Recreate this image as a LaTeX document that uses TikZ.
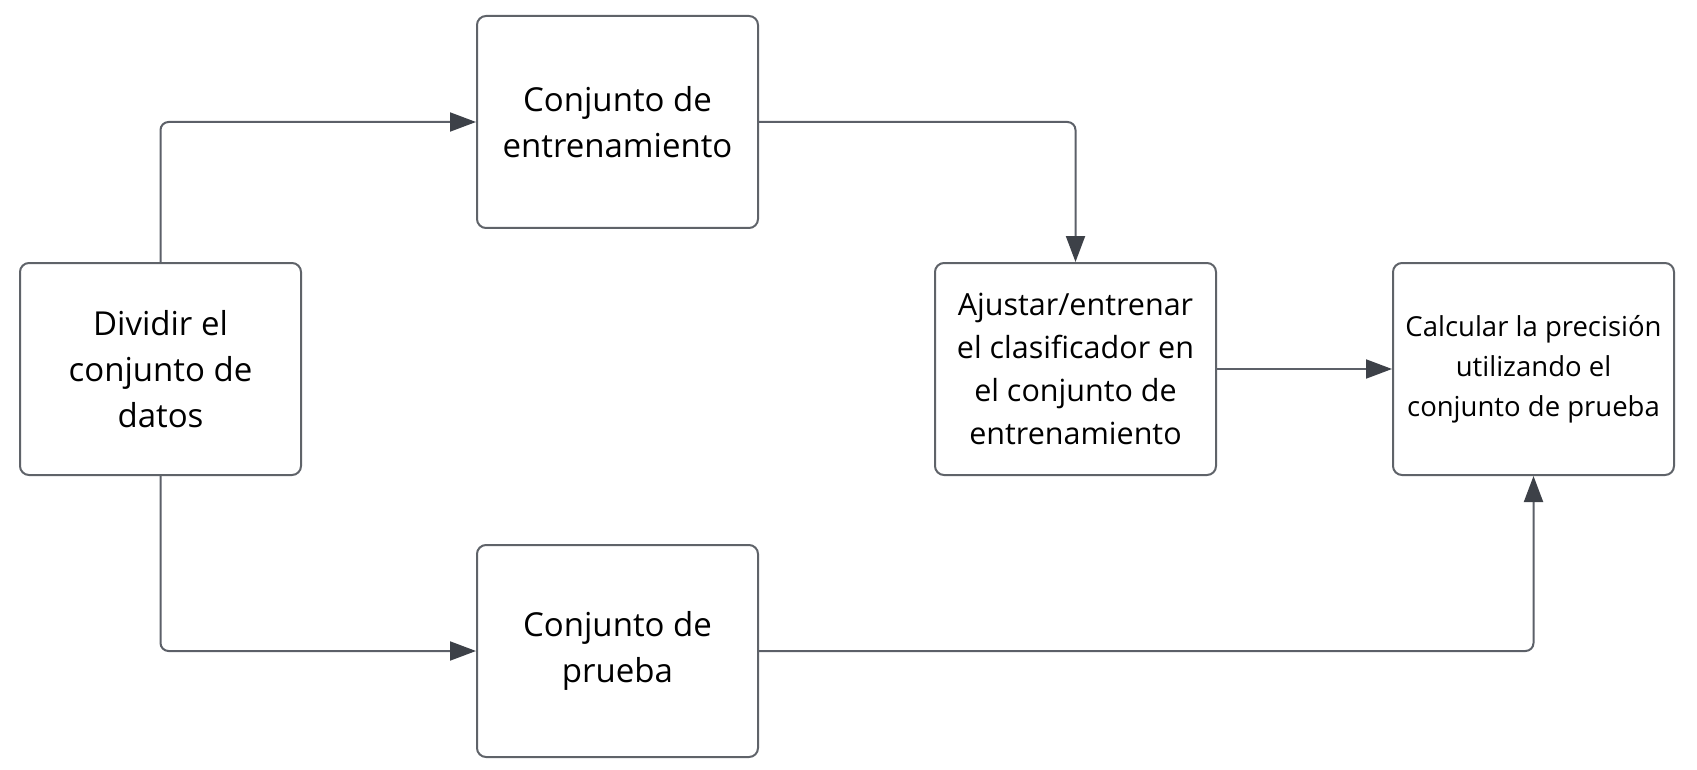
\documentclass[tikz,border=0pt]{standalone}
\usepackage{fontspec}
\setmainfont{Open Sans}
\usetikzlibrary{arrows.meta}
\definecolor{boxc}{HTML}{5F6369}
\definecolor{linec}{HTML}{5C6068}
\definecolor{tipc}{HTML}{3D4148}
\tikzset{
  box/.style={draw=boxc, line width=2pt, rounded corners=9pt, minimum width=281pt, minimum height=212pt, align=center, inner sep=0pt, text=black, font=\fontsize{33}{46}\selectfont},
  conn/.style={draw=linec, line width=2pt, rounded corners=8pt, -{Triangle[length=26pt,width=19pt,color=tipc]}},
}
\begin{document}
\begin{tikzpicture}[x=1pt,y=-1pt]
\useasboundingbox (0,0) rectangle (1697,770);
\node[box] (div) at (160.5,369) {Dividir el\\conjunto de\\datos};
\node[box] (ent) at (617.5,122) {Conjunto de\\entrenamiento};
\node[box] (pru) at (617.5,651) {Conjunto de\\prueba};
\node[box, font=\fontsize{30.5}{43}\selectfont] (aj) at (1075.5,369) {Ajustar/entrenar\\el clasificador en\\el conjunto de\\entrenamiento};
\node[box, font=\fontsize{27.5}{40}\selectfont] (calc) at (1533.5,369) {Calcular la precisión\\utilizando el\\conjunto de prueba};
\draw[conn] (div.north) |- (ent.west);
\draw[conn] (ent.east) -| (aj.north);
\draw[conn] (aj.east) -- (calc.west);
\draw[conn] (div.south) |- (pru.west);
\draw[conn] (pru.east) -| (calc.south);
\end{tikzpicture}
\end{document}
